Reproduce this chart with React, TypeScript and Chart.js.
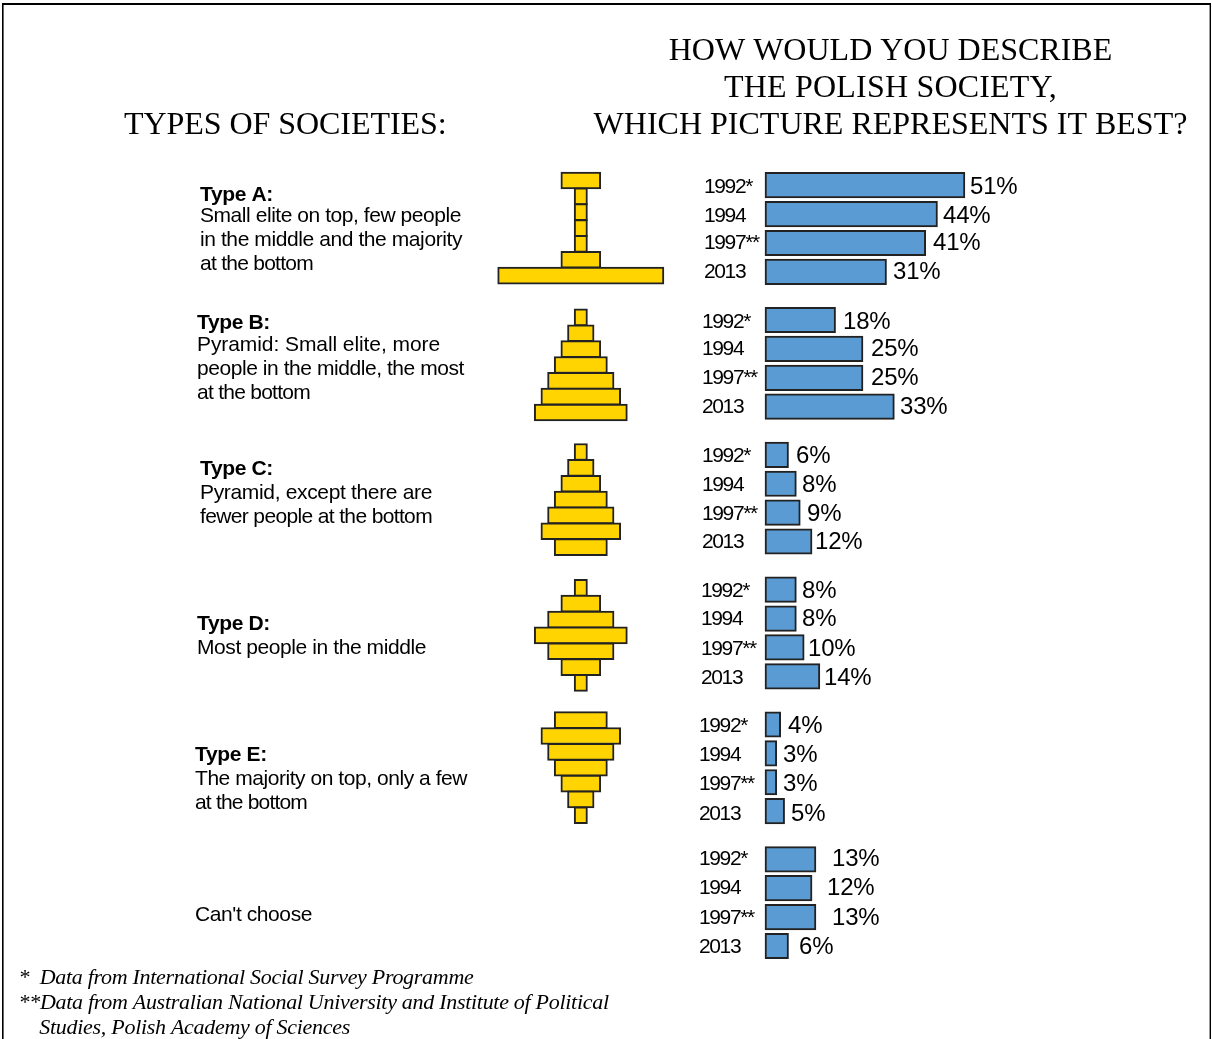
import React, { useEffect, useRef } from "react";
import { Chart, registerables } from "chart.js";

Chart.register(...registerables);

// Survey results, percent of answers per year
const years = ["1992*", "1994", "1997**", "2013"];
const typeA = [51, 44, 41, 31];
const typeB = [18, 25, 25, 33];
const typeC = [6, 8, 9, 12];
const typeD = [8, 8, 10, 14];
const typeE = [4, 3, 3, 5];
const cantChoose = [13, 12, 13, 6];
const answers = [typeA, typeB, typeC, typeD, typeE, cantChoose];

// Relative width of each layer of the society diagrams, top to bottom
const shapeA = [3, 1, 1, 1, 1, 3, 12.5];
const shapeB = [1, 2, 3, 4, 5, 6, 7];
const shapeC = [1, 2, 3, 4, 5, 6, 4];
const shapeD = [1, 3, 5, 7, 5, 3, 1];
const shapeE = [4, 6, 5, 4, 3, 2, 1];
const shapes = [shapeA, shapeB, shapeC, shapeD, shapeE];

const descriptions = [
  { head: "Type A:", lines: ["Small elite on top, few people", "in the middle and the majority", "at the bottom"] },
  { head: "Type B:", lines: ["Pyramid: Small elite, more", "people in the middle, the most", "at the bottom"] },
  { head: "Type C:", lines: ["Pyramid, except there are", "fewer people at the bottom"] },
  { head: "Type D:", lines: ["Most people in the middle"] },
  { head: "Type E:", lines: ["The majority on top, only a few", "at the bottom"] },
  { head: "", lines: ["Can't choose"] },
];

const titleRight = ["HOW WOULD YOU DESCRIBE", "THE POLISH SOCIETY,", "WHICH PICTURE REPRESENTS IT BEST?"];
const titleRightSpacing = [0, 0.2, 0];
const titleLeft = "TYPES OF SOCIETIES:";
const footnotes = [
  "*  Data from International Social Survey Programme",
  "**Data from Australian National University and Institute of Political",
  "    Studies, Polish Academy of Sciences",
];

// Canvas layout
const W = 1212;
const H = 1039;
const BAR_ZERO = 765;
const PX_PER_PCT = 3.92;
const BAR_TOP_CENTRE = 185.2;
const PX_PER_ROW = 9.63;
const YEAR_STEP = 3; // rows between two years
const GROUP_STEP = 14; // rows between two answers
const SHAPE_CENTRE = 580.8;
const PX_PER_SHAPE_UNIT = 13.3;
const SHAPE_TOP_CENTRE = 180.5;
const PX_PER_LAYER = 15.85;
const shapeStartLayer = [0, 8.64, 17.13, 25.7, 34.05];

// Text placement
const descX = [200, 197, 200, 197, 195, 195];
const descHeadY = [201, 329, 475, 630, 761, 0];
const descFirstY = [222, 351, 499, 654, 785, 921];
const descLineEnd = [[461, 462, 313], [440, 464, 310], [432, 432], [426], [467, 307], [312]];
const yearX = [704, 702, 702, 701, 699, 699];
const labelCentreY = [
  [186, 215, 242, 271],
  [321, 348, 377, 406],
  [455, 484, 513, 541],
  [590, 618, 648, 677],
  [725, 754, 783, 813],
  [858, 887, 917, 946],
];
const valueX = [
  [970, 943, 933, 893],
  [843, 871, 871, 900],
  [796, 802, 807, 815],
  [802, 802, 808, 824],
  [788, 783, 783, 791],
  [832, 827, 832, 799],
];

const drawText = (ctx, str, x, y, font, spacing = 0, align = "left") => {
  ctx.font = font;
  ctx.letterSpacing = `${spacing}px`;
  ctx.textAlign = align;
  ctx.textBaseline = "alphabetic";
  ctx.fillStyle = "#000";
  ctx.fillText(str, x, y);
};

// Draws a line of text, spacing its letters so that it ends at a given x
const drawFitted = (ctx, str, x, y, font, endX) => {
  ctx.font = font;
  ctx.letterSpacing = "0px";
  const natural = ctx.measureText(str).width;
  drawText(ctx, str, x, y, font, (endX - x - natural) / str.length);
};

const annotations = {
  id: "annotations",
  beforeDraw(chart) {
    const { ctx } = chart;
    ctx.save();
    ctx.fillStyle = "#fff";
    ctx.fillRect(0, 0, W, H);
    ctx.fillStyle = "#000";
    ctx.fillRect(2, 3, 1.6, H - 3);
    ctx.fillRect(2, 3, W - 3, 2);
    ctx.fillRect(1209.6, 3, 1.4, H - 3);
    ctx.restore();
  },
  afterDraw(chart) {
    const { ctx } = chart;
    ctx.save();
    const serif = '"Liberation Serif", serif';
    const sans = '"Liberation Sans", sans-serif';

    titleRight.forEach((line, i) =>
      drawText(ctx, line, 890.5, 60 + i * 37, `32px ${serif}`, titleRightSpacing[i], "center")
    );
    drawText(ctx, titleLeft, 124, 134, `32px ${serif}`, -0.05);

    descriptions.forEach((d, g) => {
      if (d.head) drawText(ctx, d.head, descX[g], descHeadY[g], `bold 21px ${sans}`, -0.35);
      d.lines.forEach((line, i) =>
        drawFitted(ctx, line, descX[g], descFirstY[g] + i * 24, `21px ${sans}`, descLineEnd[g][i])
      );
    });

    answers.forEach((series, g) => {
      series.forEach((value, i) => {
        const cy = labelCentreY[g][i];
        drawText(ctx, years[i], yearX[g], cy + 7, `21px ${sans}`, -1.38);
        drawText(ctx, `${value}%`, valueX[g][i], cy + 8, `24px ${sans}`, -0.2);
      });
    });

    footnotes.forEach((line, i) => drawText(ctx, line, 18.5, 984 + i * 25, `italic 22px ${serif}`, -0.29));
    ctx.restore();
  },
};

export default function App() {
  const ref = useRef(null);

  useEffect(() => {
    document.body.style.margin = "0";
    const barPoints = answers.flatMap((series, g) =>
      series.map((value, i) => ({ x: value, y: g * GROUP_STEP + i * YEAR_STEP }))
    );
    const layerPoints = shapes.flatMap((shape, g) =>
      shape.map((w, i) => ({ x: [-w / 2, w / 2], y: shapeStartLayer[g] + i }))
    );

    const chart = new Chart(ref.current, {
      type: "bar",
      data: {
        datasets: [
          {
            label: "Share of answers",
            data: barPoints,
            xAxisID: "x",
            yAxisID: "y",
            grouped: false,
            barThickness: 25.5,
            backgroundColor: "#5b9bd3",
            borderColor: "#222222",
            borderWidth: 2,
            borderSkipped: false,
          },
          {
            label: "Society layers",
            data: layerPoints,
            xAxisID: "xShape",
            yAxisID: "yShape",
            grouped: false,
            barThickness: 17,
            backgroundColor: "#ffd400",
            borderColor: "#222222",
            borderWidth: 2,
            borderSkipped: false,
          },
        ],
      },
      options: {
        indexAxis: "y",
        responsive: false,
        animation: false,
        layout: { padding: 0 },
        plugins: { legend: { display: false }, tooltip: { enabled: false }, title: { display: false } },
        scales: {
          x: {
            type: "linear",
            display: false,
            min: -BAR_ZERO / PX_PER_PCT,
            max: (W - BAR_ZERO) / PX_PER_PCT,
          },
          y: {
            type: "linear",
            display: false,
            reverse: true,
            offset: false,
            min: -BAR_TOP_CENTRE / PX_PER_ROW,
            max: (H - BAR_TOP_CENTRE) / PX_PER_ROW,
          },
          xShape: {
            type: "linear",
            axis: "x",
            display: false,
            min: -SHAPE_CENTRE / PX_PER_SHAPE_UNIT,
            max: (W - SHAPE_CENTRE) / PX_PER_SHAPE_UNIT,
          },
          yShape: {
            type: "linear",
            axis: "y",
            display: false,
            reverse: true,
            offset: false,
            min: -SHAPE_TOP_CENTRE / PX_PER_LAYER,
            max: (H - SHAPE_TOP_CENTRE) / PX_PER_LAYER,
          },
        },
      },
      plugins: [annotations],
    });
    return () => chart.destroy();
  }, []);

  return <canvas ref={ref} width={W} height={H} style={{ display: "block", width: W, height: H }} />;
}
